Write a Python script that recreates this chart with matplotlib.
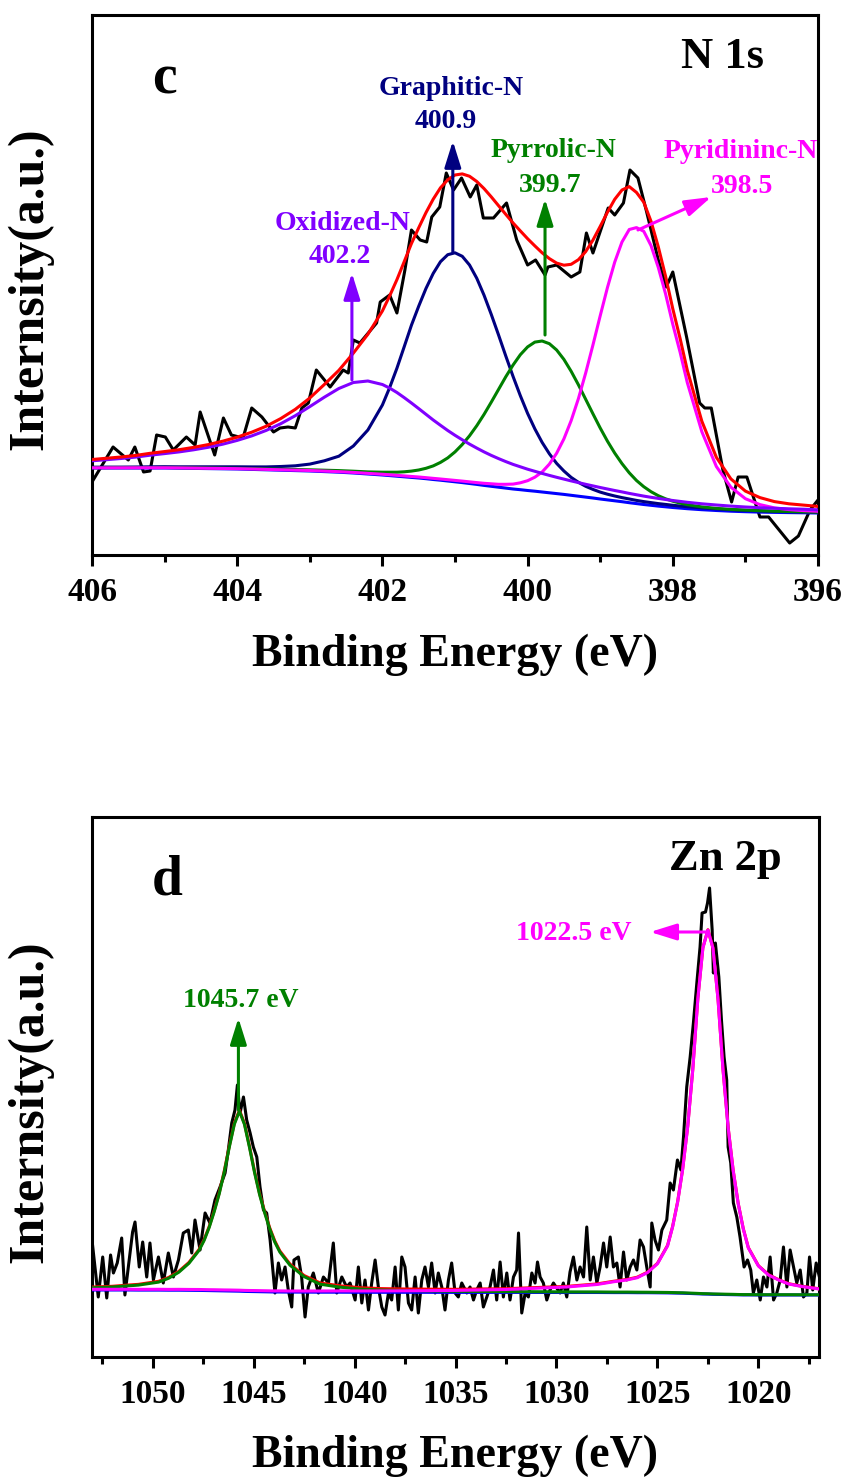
import numpy as np
import matplotlib
matplotlib.use('Agg')
import matplotlib.pyplot as plt
from matplotlib.ticker import MultipleLocator

plt.rcParams['font.family'] = 'Liberation Serif'
plt.rcParams['font.weight'] = 'bold'

# ---------------- N 1s (panel c) ----------------
n_raw_be = [406.00, 405.71, 405.50, 405.41, 405.29, 405.20, 405.11, 404.99, 404.88, 404.70,
            404.58, 404.51, 404.31, 404.19, 404.08, 403.92, 403.80, 403.66, 403.50, 403.41,
            403.30, 403.20, 403.11, 403.02, 402.91, 402.72, 402.54, 402.47, 402.40, 402.31,
            402.08, 402.03, 401.90, 401.80, 401.69, 401.60, 401.48, 401.39, 401.32, 401.21,
            401.12, 401.02, 400.91, 400.79, 400.70, 400.61, 400.47, 400.29, 400.15, 400.00,
            399.89, 399.76, 399.72, 399.60, 399.40, 399.28, 399.19, 399.10, 398.89, 398.80,
            398.68, 398.59, 398.48, 398.36, 398.20, 398.09, 398.00, 397.81, 397.63, 397.56,
            397.47, 397.31, 397.19, 397.10, 396.98, 396.80, 396.68, 396.39, 396.27, 396.11,
            396.00]
n_raw_int = [73, 108, 95, 108, 83, 84, 120, 118, 105, 118,
             110, 143, 100, 137, 120, 117, 147, 138, 123, 127,
             128, 127, 147, 152, 185, 168, 185, 182, 215, 212,
             232, 253, 260, 242, 285, 325, 315, 313, 338, 348,
             382, 365, 377, 358, 370, 337, 337, 352, 315, 290,
             295, 280, 288, 290, 278, 283, 322, 302, 347, 340,
             352, 385, 377, 343, 295, 268, 283, 218, 152, 147,
             147, 85, 53, 78, 78, 38, 38, 12, 19, 45,
             55]

n_fit_be = [406.0, 405.8, 405.6, 405.4, 405.2, 405.0, 404.8, 404.6, 404.4, 404.2,
            404.0, 403.8, 403.6, 403.4, 403.2, 403.0, 402.8, 402.6, 402.4, 402.2,
            402.0, 401.9, 401.8, 401.7, 401.6, 401.5, 401.4, 401.3, 401.2, 401.1,
            401.0, 400.9, 400.8, 400.7, 400.6, 400.5, 400.4, 400.3, 400.2, 400.1,
            400.0, 399.9, 399.8, 399.7, 399.6, 399.5, 399.4, 399.3, 399.2, 399.1,
            399.0, 398.9, 398.8, 398.7, 398.6, 398.5, 398.4, 398.3, 398.2, 398.1,
            398.0, 397.9, 397.8,
            397.6, 397.4, 397.2, 397.0, 396.8, 396.6, 396.4, 396.2, 396.0]
n_background = [87, 87, 87, 87, 87, 87, 86.8, 86.6, 86.4, 86.2,
                86, 85.6, 85.2, 84.8, 84.4, 84, 83.4, 82.8, 82, 81,
                80, 79.4, 78.8, 78.2, 77.6, 77.0, 76.3, 75.5, 74.8, 74.0,
                73.2, 72.4, 71.5, 70.6, 69.6, 68.7, 67.8, 66.9, 66, 65.3,
                64.5, 63.8, 63, 62.2, 61.4, 60.6, 59.7, 58.8, 57.9, 57.0,
                56, 55.1, 54.2, 53.3, 52.3, 51.4, 50.5, 49.7, 48.9, 48.2,
                47.5, 46.9, 46.3,
                45.3, 44.5, 43.8, 43.3, 42.9, 42.6, 42.4, 42.2, 42]
# peak heights above the background
oxidized_n = [7.2, 8.3, 9.5, 10.9, 12.8, 14.4, 16.3, 18.6, 21.3, 24.6,
              28.6, 33.5, 39.4, 46.5, 54.9, 64.4, 74.4, 83.7, 90.5, 93.0,
              90.5, 87.5, 83.7, 79.2, 74.4, 69.4, 64.4, 59.5, 54.9, 50.5,
              46.5, 42.8, 39.4, 36.3, 33.5, 30.9, 28.6, 26.5, 24.6, 22.9,
              21.3, 19.9, 18.6, 17.4, 16.3, 15.3, 14.4, 13.6, 12.8, 12.1,
              11.5, 10.9, 10.3, 9.8, 9.3, 8.85, 8.4, 8.0, 7.7, 7.3,
              7.0, 6.7, 6.4,
              5.9, 5.5, 5.1, 4.7, 4.4, 4.1, 3.8, 3.6, 3.2]
graphitic_n = [0.8, 0.9, 0.9, 1.0, 1.2, 1.3, 1.4, 1.6, 1.8, 2.0,
               2.2, 2.5, 2.9, 3.7, 4.8, 6.9, 10.8, 16, 27, 44,
               70, 88, 108, 130, 152.2, 171.8, 190.2, 206.1, 218.5, 226.3,
               229, 226.3, 218.5, 206.1, 190.2, 171.8, 152.2, 132.0, 112.5, 94.0,
               77.1, 62.3, 49.6, 39.0, 30.2, 23.4, 17.9, 13.9, 10.8, 8.6,
               6.9, 5.7, 4.8, 4.1, 3.7, 3.2, 2.9, 2.7, 2.5, 2.4,
               2.2, 2.1, 2.0,
               1.8, 1.6, 1.4, 1.3, 1.2, 1.0, 0.9, 0.9, 0.8]
pyrrolic_n = [0.3, 0.35, 0.4, 0.4, 0.45, 0.5, 0.5, 0.55, 0.6, 0.65,
              0.7, 0.8, 0.9, 1.0, 1.1, 1.2, 1.4, 1.6, 1.8, 2.1,
              2.8, 3.4, 4.0, 5.0, 6.3, 8.0, 10.4, 13.6, 17.8, 23.1,
              29.9, 38.1, 47.7, 58.7, 71.0, 84.2, 97.8, 111.4, 124.0, 135.0,
              143.6, 149.1, 151, 149.1, 143.6, 135.0, 124.0, 111.4, 97.8, 84.2,
              71.0, 58.7, 47.7, 38.1, 29.9, 23.1, 17.8, 13.6, 10.4, 8.0,
              6.3, 5.0, 4.0,
              2.8, 2.1, 1.8, 1.6, 1.4, 1.2, 1.1, 1.0, 0.9]
pyridinic_n = [0.2, 0.2, 0.2, 0.25, 0.25, 0.25, 0.3, 0.3, 0.3, 0.35,
               0.35, 0.4, 0.4, 0.45, 0.45, 0.5, 0.5, 0.55, 0.6, 0.65,
               0.75, 0.8, 0.85, 0.9, 0.95, 1.0, 1.05, 1.15, 1.2, 1.3,
               1.4, 1.5, 1.65, 1.8, 2.1, 2.5, 2.9, 3.8, 4.9, 6.9,
               9.8, 14.0, 20.0, 28.7, 40.4, 55.5, 74.7, 97.6, 124.1, 153,
               183.2, 212.4, 238.7, 259.7, 273.2, 276, 273.2, 259.7, 238.7, 213,
               183.2, 156, 126.0,
               78.0, 44.0, 24.0, 13.0, 7.5, 4.5, 3.0, 2.2, 1.7]

# ---------------- Zn 2p (panel d) ----------------
zn_raw_be = [1053.00, 1052.69, 1052.47, 1052.27, 1052.08, 1051.94, 1051.75, 1051.53, 1051.37, 1051.20,
             1050.99, 1050.87, 1050.66, 1050.49, 1050.29, 1050.13, 1049.96, 1049.71, 1049.47, 1049.22,
             1048.97, 1048.72, 1048.48, 1048.23, 1048.06, 1047.90, 1047.65, 1047.40, 1047.16, 1046.91,
             1046.66, 1046.41, 1046.25, 1046.08, 1045.92, 1045.80, 1045.67, 1045.50, 1045.34, 1045.17,
             1045.01, 1044.84, 1044.68, 1044.51, 1044.35, 1044.18, 1043.94, 1043.77, 1043.61, 1043.44,
             1043.28, 1043.11, 1043.00, 1042.78, 1042.62, 1042.45, 1042.29, 1042.04, 1041.79, 1041.54,
             1041.29, 1041.05, 1040.88, 1040.63, 1040.39, 1040.22, 1039.97, 1039.81, 1039.64, 1039.48,
             1039.31, 1039.15, 1038.98, 1038.82, 1038.65, 1038.49, 1038.32, 1038.16, 1037.99, 1037.83,
             1037.66, 1037.50, 1037.33, 1037.17, 1037.00, 1036.84, 1036.67, 1036.51, 1036.34, 1036.18,
             1036.01, 1035.85, 1035.68, 1035.52, 1035.35, 1035.19, 1035.02, 1034.86, 1034.69, 1034.44,
             1034.28, 1034.11, 1033.95, 1033.78, 1033.62, 1033.45, 1033.29, 1033.12, 1032.96, 1032.79,
             1032.63, 1032.46, 1032.30, 1032.13, 1031.97, 1031.88, 1031.72, 1031.55, 1031.39, 1031.22,
             1031.06, 1030.94, 1030.81, 1030.65, 1030.48, 1030.32, 1030.15, 1029.99, 1029.82, 1029.66,
             1029.49, 1029.33, 1029.16, 1028.99, 1028.83, 1028.66, 1028.50, 1028.33, 1028.17, 1028.00,
             1027.84, 1027.67, 1027.51, 1027.34, 1027.18, 1027.01, 1026.85, 1026.68, 1026.52, 1026.35,
             1026.19, 1026.02, 1025.86, 1025.69, 1025.53, 1025.36, 1025.28, 1025.12, 1024.95, 1024.78,
             1024.54, 1024.37, 1024.21, 1024.01, 1023.84, 1023.71, 1023.55, 1023.38, 1023.22, 1023.05,
             1022.89, 1022.79, 1022.62, 1022.52, 1022.42, 1022.29, 1022.23, 1022.13, 1021.96, 1021.83,
             1021.70, 1021.57, 1021.50, 1021.37, 1021.24, 1021.07, 1020.91, 1020.71, 1020.54, 1020.38,
             1020.25, 1020.08, 1019.91, 1019.75, 1019.58, 1019.42, 1019.25, 1019.09, 1018.92, 1018.76,
             1018.59, 1018.43, 1018.26, 1018.10, 1017.93, 1017.77, 1017.60, 1017.47, 1017.31, 1017.14,
             1016.98]
zn_raw_int = [117, 60, 100, 59, 102, 84, 94, 119, 62, 90,
              125, 135, 90, 115, 80, 114, 77, 100, 74, 104,
              80, 97, 124, 127, 104, 137, 107, 144, 134, 157,
              170, 184, 207, 234, 247, 272, 244, 260, 237, 224,
              210, 200, 170, 147, 144, 117, 64, 94, 77, 90,
              67, 50, 97, 100, 80, 40, 70, 84, 64, 80,
              74, 114, 64, 80, 70, 74, 57, 90, 54, 77,
              47, 74, 97, 70, 50, 42, 64, 57, 90, 47,
              100, 90, 54, 47, 80, 44, 77, 90, 70, 94,
              64, 84, 70, 47, 77, 94, 64, 60, 74, 64,
              70, 57, 67, 74, 50, 60, 70, 87, 57, 95,
              60, 84, 57, 80, 87, 124, 44, 64, 60, 84,
              74, 95, 80, 74, 57, 67, 74, 69, 64, 74,
              60, 85, 100, 77, 90, 80, 130, 77, 100, 74,
              90, 114, 90, 120, 90, 94, 70, 105, 77, 90,
              97, 87, 117, 110, 90, 70, 134, 117, 107, 127,
              137, 174, 167, 197, 187, 220, 270, 300, 334, 374,
              410, 444, 445, 454, 469, 427, 384, 414, 380, 337,
              300, 277, 210, 194, 154, 140, 120, 90, 97, 87,
              64, 77, 57, 80, 70, 100, 57, 64, 77, 110,
              70, 107, 90, 74, 87, 60, 64, 100, 67, 94,
              80]

zn_fit_be = [1053.0, 1052.0, 1051.2, 1050.7, 1049.7, 1049.2, 1048.7, 1048.2, 1047.7, 1047.45,
             1047.2, 1046.95, 1046.7, 1046.45, 1046.2, 1045.95, 1045.7, 1045.45, 1045.2, 1044.95,
             1044.7, 1044.45, 1044.2, 1043.95, 1043.7, 1043.2, 1042.5, 1041.7, 1040.7, 1039.7,
             1038.7, 1037.5, 1035.0, 1032.5, 1029.5, 1028.0, 1027.15, 1026.5, 1026.0, 1025.5,
             1025.0, 1024.5, 1024.25, 1024.0, 1023.75, 1023.5, 1023.25, 1023.0, 1022.75, 1022.5,
             1022.25, 1022.0, 1021.75, 1021.5, 1021.25, 1021.0, 1020.75, 1020.5, 1020.0, 1019.5,
             1019.0, 1018.5, 1017.85, 1017.0]
zn_background = [67.0, 67.0, 67.0, 66.9, 66.9, 66.8, 66.8, 66.7, 66.6, 66.5,
                 66.4, 66.3, 66.2, 66.1, 66.0, 65.9, 65.8, 65.6, 65.5, 65.4,
                 65.3, 65.2, 65.1, 65.0, 65.0, 64.9, 64.9, 64.8, 64.8, 64.7,
                 64.7, 64.7, 64.6, 64.6, 64.5, 64.5, 64.4, 64.4, 64.3, 64.3,
                 64.2, 64.1, 64.0, 63.9, 63.8, 63.6, 63.4, 63.2, 63.0, 62.9,
                 62.7, 62.6, 62.5, 62.4, 62.3, 62.2, 62.1, 62.1, 62.0, 62.0,
                 62.0, 62.0, 62.0, 62.0]
zn_2p12 = [2.2, 3.0, 4.2, 5.0, 8.0, 12, 18, 27, 40, 50,
           63, 79, 97, 119, 144, 167, 180, 167, 144, 119,
           97, 79, 63, 50, 40, 27, 15.5, 8, 5, 3.2,
           2.3, 1.8, 1.1, 0.8, 0.6, 0.55, 0.5, 0.5, 0.5, 0.45,
           0.45, 0.45, 0.45, 0.4, 0.4, 0.4, 0.4, 0.4, 0.35, 0.35,
           0.35, 0.35, 0.35, 0.35, 0.35, 0.3, 0.3, 0.3, 0.3, 0.3,
           0.3, 0.3, 0.25, 0.25]
zn_2p32 = [0.7, 0.7, 0.75, 0.75, 0.8, 0.8, 0.85, 0.85, 0.9, 0.9,
           0.9, 0.95, 0.95, 0.95, 1.0, 1.0, 1.0, 1.0, 1.0, 1.05,
           1.05, 1.05, 1.05, 1.1, 1.1, 1.1, 1.1, 1.2, 1.3, 1.35,
           1.4, 1.5, 2.0, 2.9, 5.5, 8, 10.9, 12.7, 15, 20,
           29, 47, 66, 91, 124, 167, 224, 295, 346, 364,
           346, 295, 224, 167, 124, 91, 66, 47, 29, 20,
           15, 11, 8.5, 6]

LW = 2.2
BOLD = 'bold'


def style_axis(ax, xlim, major, minor):
    ax.set_xlim(*xlim)
    ax.set_ylim(0, 540)
    ax.xaxis.set_major_locator(MultipleLocator(major))
    ax.xaxis.set_minor_locator(MultipleLocator(minor))
    ax.tick_params(axis='x', which='major', direction='out', length=8, width=LW,
                   labelsize=24, pad=8)
    ax.tick_params(axis='x', which='minor', direction='out', length=5, width=LW)
    ax.set_yticks([])
    for s in ax.spines.values():
        s.set_linewidth(LW)


def arrow(ax, base, tip, color):
    ax.annotate('', xy=tip, xytext=base, zorder=9,
                arrowprops=dict(arrowstyle='-|>,head_length=0.8,head_width=0.25',
                                color=color, lw=LW, shrinkA=0, shrinkB=0,
                                mutation_scale=20))


fig = plt.figure(figsize=(8.5, 14.78), dpi=100)
ax1 = fig.add_axes([92 / 850, 1 - 555 / 1478, 726 / 850, 540 / 1478])
ax2 = fig.add_axes([92 / 850, 1 - 1357 / 1478, 727 / 850, 540 / 1478])

# panel c
bg = np.array(n_background)
ox = np.array(oxidized_n)
gr = np.array(graphitic_n)
py = np.array(pyrrolic_n)
pd_ = np.array(pyridinic_n)
envelope = bg + ox + gr + py + pd_

ax1.plot(n_raw_be, n_raw_int, color='black', lw=LW, zorder=2)
ax1.plot(n_fit_be, bg, color='#0000FF', lw=LW, zorder=3)
ax1.plot(n_fit_be, bg + gr, color='#000080', lw=LW, zorder=4)
ax1.plot(n_fit_be, bg + py, color='#008000', lw=LW, zorder=5)
ax1.plot(n_fit_be, bg + pd_, color='#FF00FF', lw=LW, zorder=6)
ax1.plot(n_fit_be, bg + ox, color='#8000FF', lw=LW, zorder=7)
ax1.plot(n_fit_be, envelope, color='#FF0000', lw=LW, zorder=8)
style_axis(ax1, (406, 396), 2, 1)

arrow(ax1, (402.42, 175), (402.42, 282), '#8000FF')
arrow(ax1, (401.03, 303), (401.03, 414), '#000080')
arrow(ax1, (399.76, 220), (399.76, 356), '#008000')
arrow(ax1, (398.48, 325), (397.47, 358), '#FF00FF')

lab = dict(ha='center', va='baseline', fontsize=20, fontweight=BOLD)
ax1.text(402.55, 325, 'Oxidized-N', color='#8000FF', **lab)
ax1.text(402.58, 292, '402.2', color='#8000FF', **lab)
ax1.text(401.05, 460, 'Graphitic-N', color='#000080', **lab)
ax1.text(401.13, 427, '400.9', color='#000080', **lab)
ax1.text(399.64, 398, 'Pyrrolic-N', color='#008000', **lab)
ax1.text(399.69, 363, '399.7', color='#008000', **lab)
ax1.text(397.07, 397, 'Pyridininc-N', color='#FF00FF', **lab)
ax1.text(397.04, 362, '398.5', color='#FF00FF', **lab)
ax1.text(397.31, 487, 'N 1s', ha='center', va='baseline', fontsize=32, fontweight=BOLD)
ax1.text(405.0, 462, 'c', ha='center', va='baseline', fontsize=40, fontweight=BOLD)

# panel d
zbg = np.array(zn_background)
z1 = np.array(zn_2p12)
z3 = np.array(zn_2p32)

ax2.plot(zn_raw_be, zn_raw_int, color='black', lw=LW, zorder=2)
ax2.plot(zn_fit_be, zbg, color='#0000FF', lw=LW, zorder=3)
ax2.plot(zn_fit_be, zbg + z1 + z3, color='#FF0000', lw=LW, zorder=4)
ax2.plot(zn_fit_be, zbg + z1, color='#008000', lw=LW, zorder=5)
ax2.plot(zn_fit_be, zbg + z3, color='#FF00FF', lw=LW, zorder=6)
style_axis(ax2, (1053, 1017), 5, 2.5)

arrow(ax2, (1045.75, 247), (1045.75, 339), '#008000')
arrow(ax2, (1022.56, 425), (1025.36, 425), '#FF00FF')

ax2.text(1045.63, 350, '1045.7 eV', color='#008000', **lab)
ax2.text(1029.16, 417, '1022.5 eV', color='#FF00FF', **lab)
ax2.text(1021.65, 487, 'Zn 2p', ha='center', va='baseline', fontsize=32, fontweight=BOLD)
ax2.text(1049.3, 462, 'd', ha='center', va='baseline', fontsize=40, fontweight=BOLD)

# axis titles
fig.text(455 / 850, 1 - 655 / 1478, 'Binding Energy (eV)', ha='center', va='center',
         fontsize=33, fontweight=BOLD)
fig.text(455 / 850, 1 - 1456 / 1478, 'Binding Energy (eV)', ha='center', va='center',
         fontsize=33, fontweight=BOLD)
fig.text(30 / 850, 1 - 289 / 1478, 'Internsity(a.u.)', ha='center', va='center',
         rotation=90, fontsize=36, fontweight=BOLD)
fig.text(30 / 850, 1 - 1102 / 1478, 'Internsity(a.u.)', ha='center', va='center',
         rotation=90, fontsize=36, fontweight=BOLD)

fig.savefig('out.png', dpi=100)
